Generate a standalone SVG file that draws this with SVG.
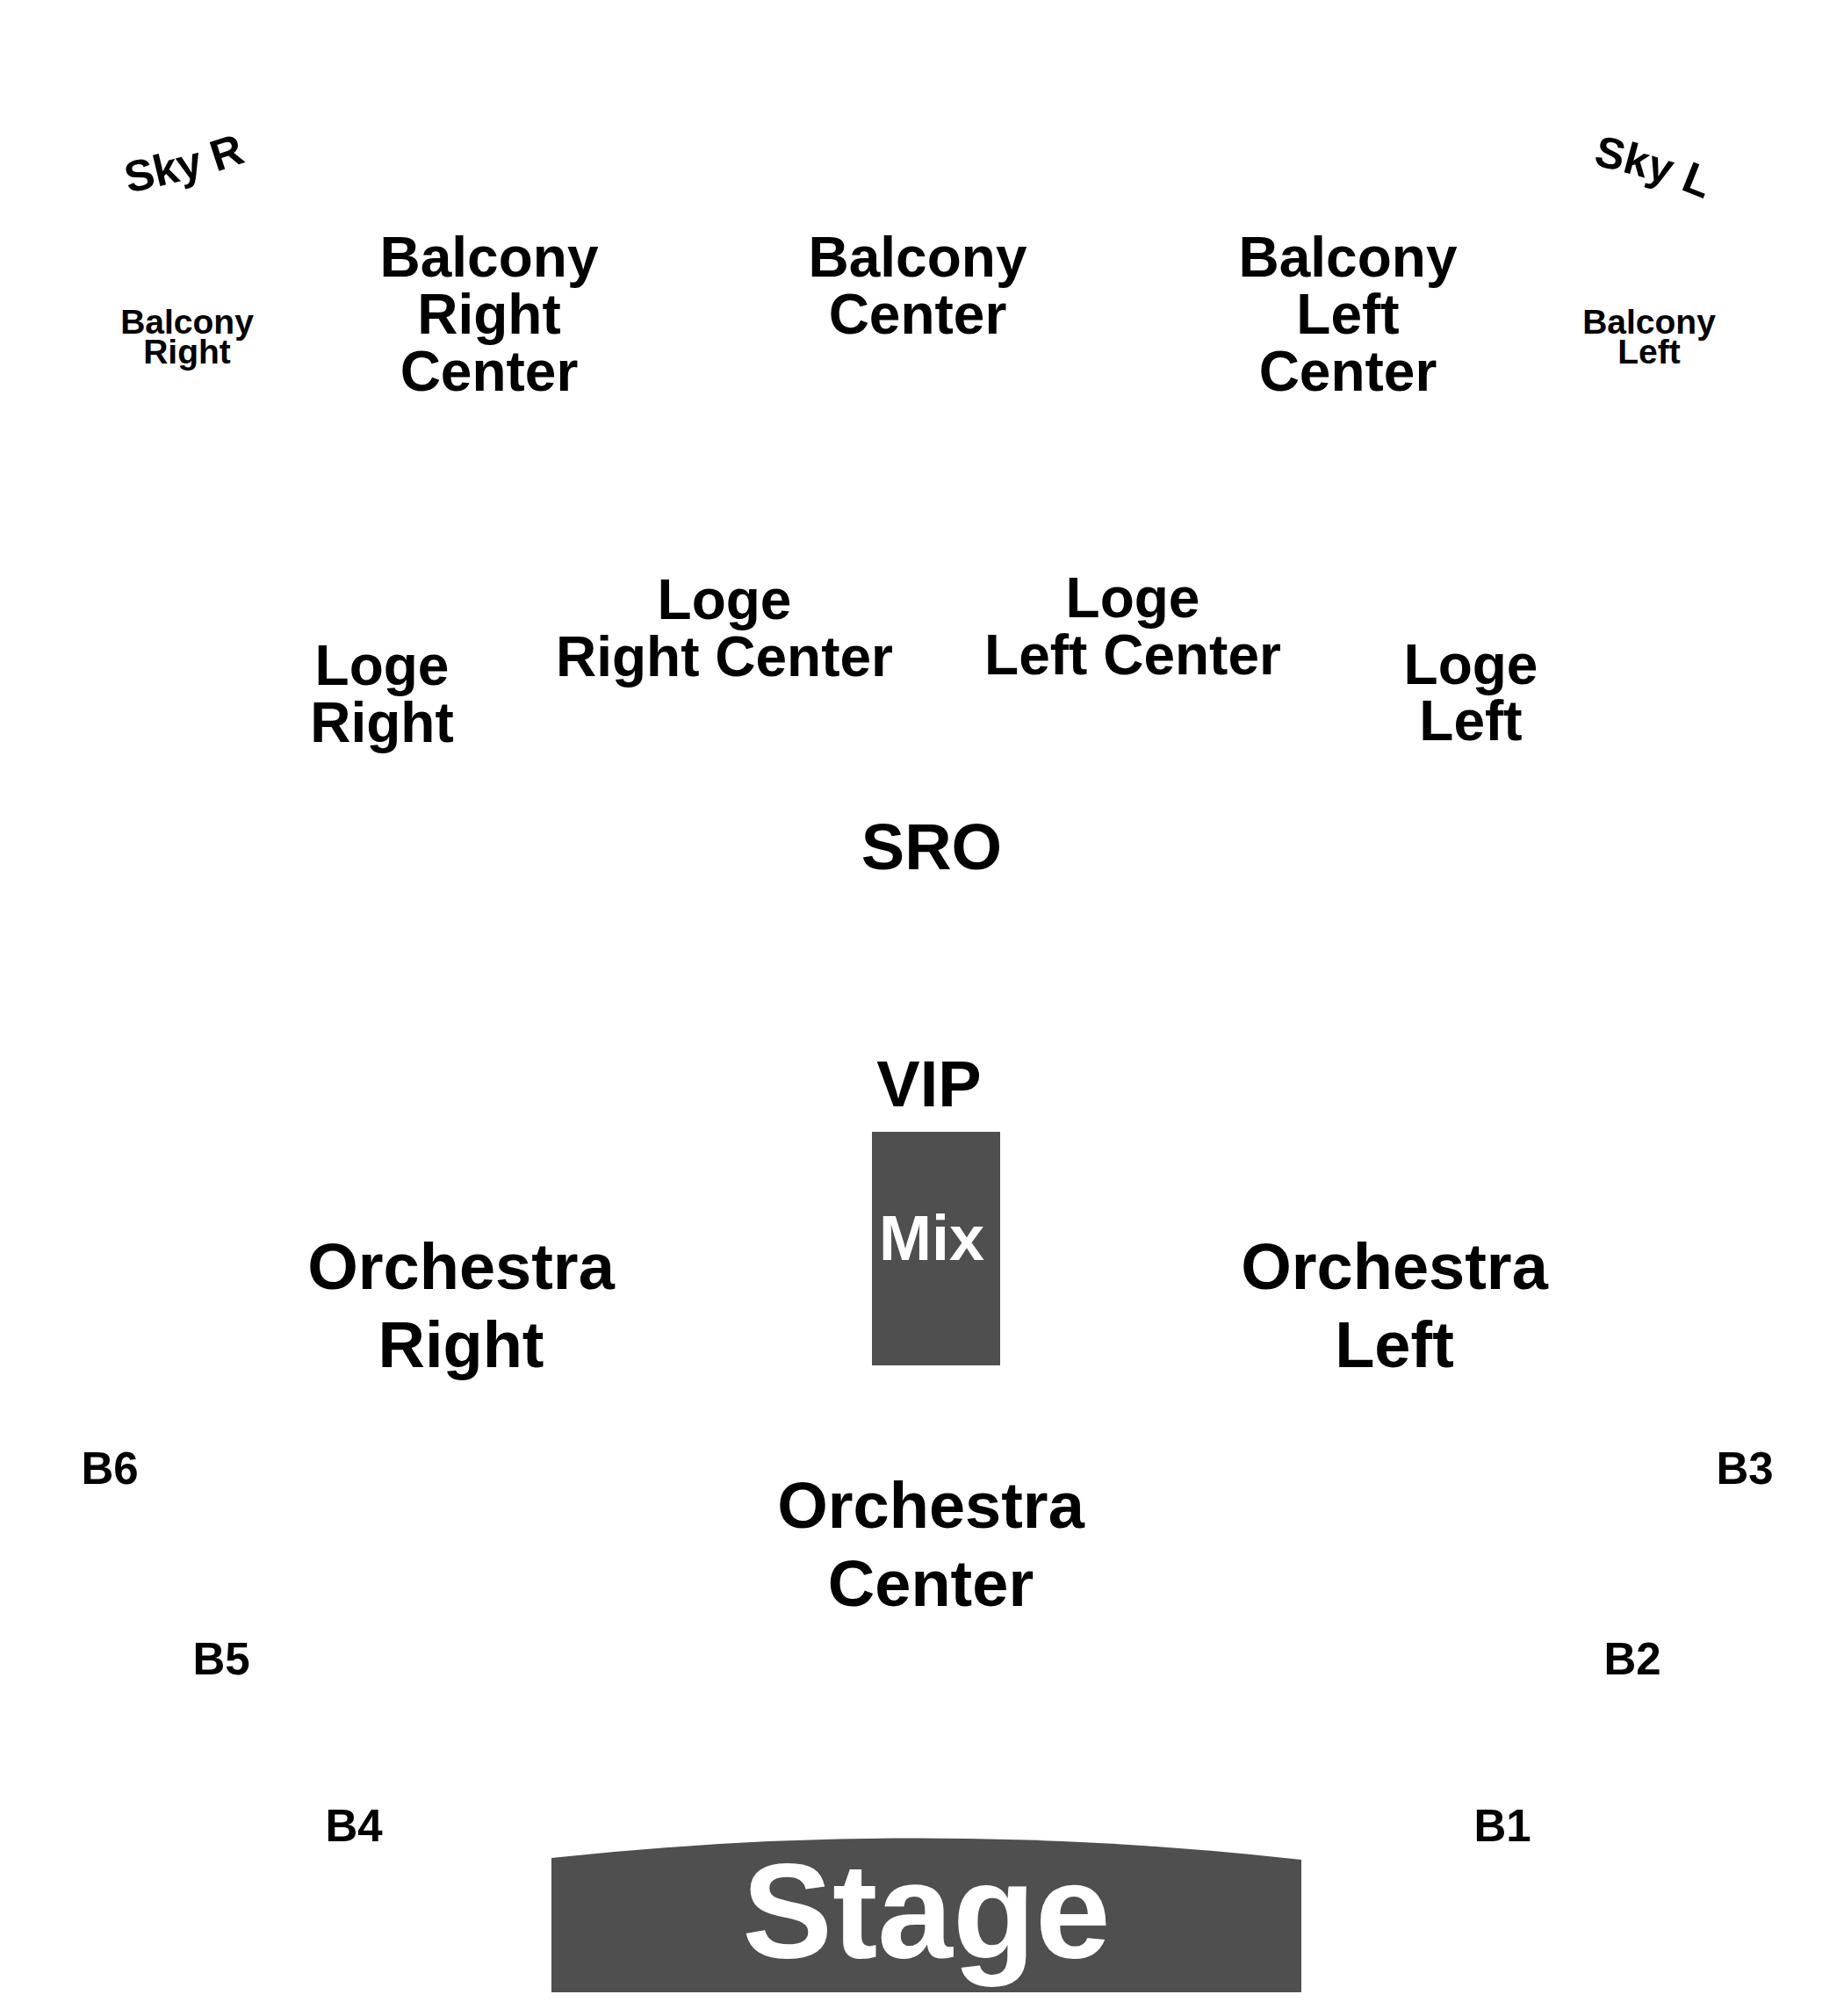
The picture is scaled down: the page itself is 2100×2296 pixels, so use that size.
<svg xmlns="http://www.w3.org/2000/svg" width="2100" height="2296" viewBox="0 0 2100 2296">
<style>
text{font-family:"Liberation Sans",Arial,sans-serif;font-weight:bold;text-anchor:middle;fill:#000}
.lg{font-size:64px}
.sm{font-size:39px}
.xl{font-size:74px}
.b{font-size:51px}
.sky{font-size:50px}
.wh{fill:#fff}
.blk{fill:#4f4f4f}
</style>
<defs>
<path id="skyR" d="M136,222 Q250,198 290,180"/>
<path id="skyL" d="M1806,186 Q1898,206 1948,230"/>
</defs>
<rect width="2100" height="2296" fill="#fff"/>
<g id="sky-r"><text class="sky"><textPath href="#skyR" startOffset="50%">Sky R</textPath></text></g>
<g id="sky-l"><text class="sky"><textPath href="#skyL" startOffset="50%">Sky L</textPath></text></g>
<g id="balcony-right"><text class="sm" x="213" y="380">Balcony</text><text class="sm" x="213" y="414">Right</text></g>
<g id="balcony-right-center"><text class="lg" x="557" y="315">Balcony</text><text class="lg" x="557" y="380">Right</text><text class="lg" x="557" y="445">Center</text></g>
<g id="balcony-center"><text class="lg" x="1045" y="315">Balcony</text><text class="lg" x="1045" y="380">Center</text></g>
<g id="balcony-left-center"><text class="lg" x="1535" y="315">Balcony</text><text class="lg" x="1535" y="380">Left</text><text class="lg" x="1535" y="445">Center</text></g>
<g id="balcony-left"><text class="sm" x="1878" y="380">Balcony</text><text class="sm" x="1878" y="414">Left</text></g>
<g id="loge-right"><text class="lg" x="435" y="780">Loge</text><text class="lg" x="435" y="845">Right</text></g>
<g id="loge-right-center"><text class="lg" x="825" y="705">Loge</text><text class="lg" x="825" y="770">Right Center</text></g>
<g id="loge-left-center"><text class="lg" x="1290" y="703">Loge</text><text class="lg" x="1290" y="768">Left Center</text></g>
<g id="loge-left"><text class="lg" x="1675" y="779">Loge</text><text class="lg" x="1675" y="843">Left</text></g>
<g id="sro"><text class="xl" x="1061" y="990">SRO</text></g>
<g id="vip"><text class="xl" x="1058" y="1260">VIP</text></g>
<g id="mix"><rect class="blk" x="993" y="1289" width="146" height="266"/><text class="xl wh" x="1061" y="1435" style="font-size:72px">Mix</text></g>
<g id="orchestra-right"><text class="xl" x="525" y="1468">Orchestra</text><text class="xl" x="525" y="1557">Right</text></g>
<g id="orchestra-left"><text class="xl" x="1588" y="1468">Orchestra</text><text class="xl" x="1588" y="1557">Left</text></g>
<g id="orchestra-center"><text class="xl" x="1060" y="1740">Orchestra</text><text class="xl" x="1060" y="1829">Center</text></g>
<g id="b6"><text class="b" x="125" y="1690">B6</text></g>
<g id="b3"><text class="b" x="1987" y="1690">B3</text></g>
<g id="b5"><text class="b" x="252" y="1907">B5</text></g>
<g id="b2"><text class="b" x="1859" y="1907">B2</text></g>
<g id="b4"><text class="b" x="403" y="2097">B4</text></g>
<g id="b1"><text class="b" x="1711" y="2097">B1</text></g>
<g id="stage"><path class="blk" d="M628,2116 Q1055,2070 1482,2118 L1482,2269 L628,2269 Z"/><text class="wh" x="1055" y="2230" style="font-size:154px">Stage</text></g>
<g id="connectors"/>
</svg>
